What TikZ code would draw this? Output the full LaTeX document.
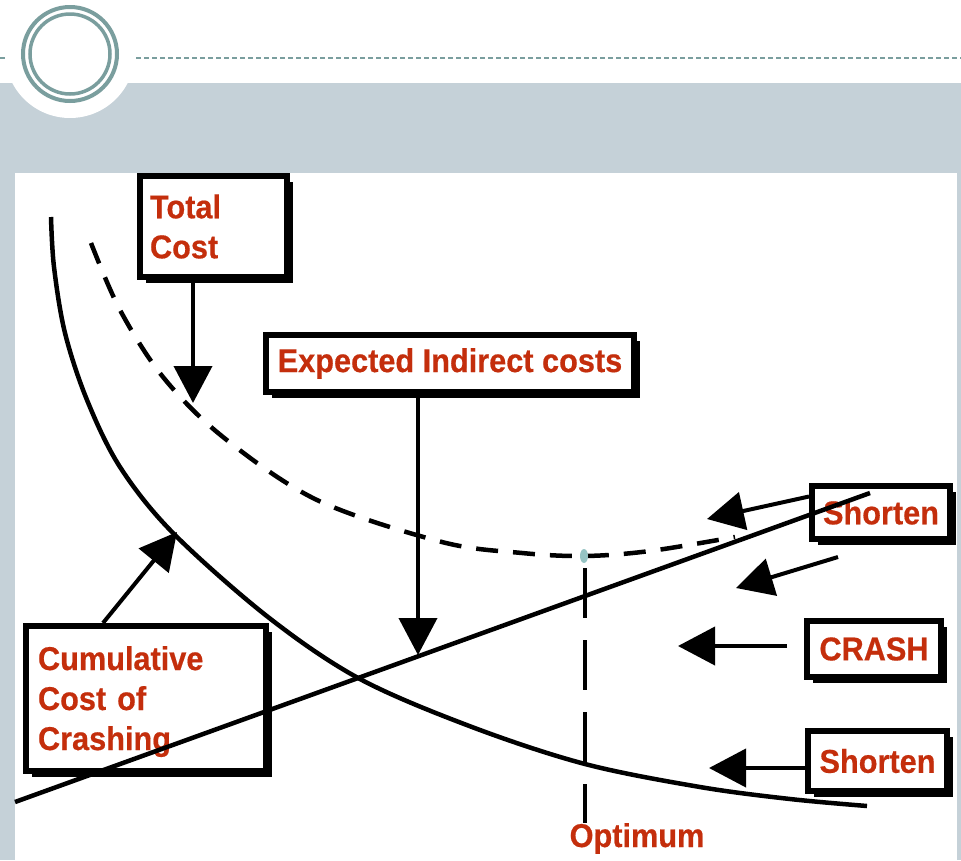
\documentclass[tikz,border=0pt]{standalone}
\usepackage{fontspec}
\usetikzlibrary{arrows.meta,shadows}
\newfontfamily\lblfont[FakeStretch=0.93, BoldFeatures={FakeBold=0.5}]{Liberation Sans}
\definecolor{bandgray}{RGB}{197,209,216}
\definecolor{ringteal}{RGB}{122,158,158}
\definecolor{lblred}{RGB}{196,46,12}
\definecolor{dotteal}{RGB}{150,196,196}

\begin{document}
\begin{tikzpicture}[x=1pt,y=-1pt,
  lbl/.style={font=\lblfont\bfseries\fontsize{33}{40}\selectfont, text=lblred},
  box/.style={lbl, rectangle, draw=black, line width=6pt, fill=white, inner sep=0pt,
    drop shadow={shadow xshift=6pt, shadow yshift=-6pt, opacity=1, fill=black}},
  arr/.style={line width=4pt, -{Triangle[length=37pt,width=38pt]}},
  curve/.style={line width=4.5pt, line cap=butt},
  dashcurve/.style={curve, dash pattern=on 22pt off 15pt},
  optline/.style={line width=4pt, dash pattern=on 50pt off 22pt}]

% page, header band and side margins
\useasboundingbox (0,0) rectangle (961,860);
\fill[white] (0,0) rectangle (961,860);
\fill[bandgray] (0,83) rectangle (961,173);
\fill[bandgray] (0,173) rectangle (15,860);
\fill[bandgray] (957,173) rectangle (961,860);
\draw[ringteal, line width=2pt, dash pattern=on 5pt off 3pt] (0,58) -- (961,58);

% title emblem
\fill[white] (70,53) circle[radius=65pt];
\draw[ringteal, line width=4pt] (70,54) circle[radius=47pt];
\draw[ringteal, line width=3.5pt] (70,54) circle[radius=40pt];

% label boxes
\node[box, minimum width=147pt, minimum height=101pt, text width=127pt, align=left]
  (tc) at (213.5,226.5) {Total\\Cost};
\node[box, minimum width=368pt, minimum height=57pt]
  (eic) at (450,363.5) {Expected Indirect costs};
\node[box, minimum width=138pt, minimum height=53pt] (sh1) at (881,512.5) {Shorten};
\node[box, minimum width=134pt, minimum height=56pt] (crash) at (874,649) {CRASH};
\node[box, minimum width=139pt, minimum height=60pt] (sh2) at (877.5,761) {Shorten};
\node[box, minimum width=240pt, minimum height=145pt, text width=216pt, align=left]
  (ccc) at (146,698.5) {\rule{0pt}{30pt}Cumulative\\Cost of\\Crashing};
\node[lbl, anchor=base, inner sep=0pt] (opt) at (637,847) {Optimum};

% reference points
\coordinate (tcTip) at (193,403);
\coordinate (eiTip) at (418,655);
\coordinate (cTip) at (177,532);
\coordinate (s1Tip) at (707,519);
\coordinate (midFrom) at (838,557);
\coordinate (midTip) at (736,588);
\coordinate (crTip) at (678,646);
\coordinate (s2Tip) at (709,768);
\coordinate (optDot) at (584,556);
\coordinate (optTop) at (585,568);
\coordinate (optEnd) at (585,823);
\coordinate (lineA) at (15,802);
\coordinate (lineB) at (870,493);

% cost of crashing (falling curve)
\draw[curve] plot[smooth, tension=0.55] coordinates {
  (51,217) (54,267) (65,333) (87,400) (120,467) (173,533) (268,617) (360,679)
  (472,727) (585,764) (700,787) (790,799) (867,806)};

% total cost (dashed)
\draw[dashcurve] plot[smooth, tension=0.55] coordinates {
  (91,243) (120,310) (163,377) (223,437) (317,500) (442,542) (522,553)
  (585,556) (650,551) (735,537)};

% expected indirect costs (rising line)
\draw[curve] (lineA) -- (lineB);

% optimum marker
\draw[optline] (optTop) -- (optEnd);
\fill[dotteal] (optDot) ellipse[x radius=4pt, y radius=7pt];

% pointers
\draw[arr] (tc.south -| tcTip) -- (tcTip);
\draw[arr] (eic.south -| eiTip) -- (eiTip);
\draw[arr] ([xshift=-43pt]ccc.north) -- (cTip);
\draw[arr] ([yshift=16pt]sh1.west) -- (s1Tip);
\draw[arr] (midFrom) -- (midTip);
\draw[arr] ([xshift=-17pt,yshift=3pt]crash.west) -- (crTip);
\draw[arr] ([yshift=-7pt]sh2.west) -- (s2Tip);
\end{tikzpicture}
\end{document}
